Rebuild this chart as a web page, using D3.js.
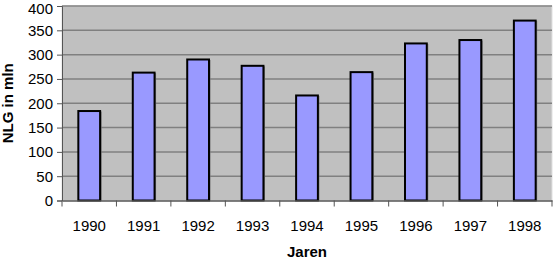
<!DOCTYPE html>
<html>
<head>
<meta charset="utf-8">
<script src="https://cdn.jsdelivr.net/npm/d3@7"></script>
<style>
  body { margin: 0; background: #fff; }
  svg text { font-family: "Liberation Sans", Arial, sans-serif; }
</style>
</head>
<body>
<svg width="554" height="259"></svg>
<script>
const years = ["1990", "1991", "1992", "1993", "1994", "1995", "1996", "1997", "1998"];
const values = [184, 263, 290, 277, 216, 264, 323, 330, 370];
const yTicks = [0, 50, 100, 150, 200, 250, 300, 350, 400];

const
    W = 554, H = 259,
    LEFT = 62, RIGHT = 552, TOP = 6, BOTTOM = 200.5;

const svg = d3.select("svg");

const x = d3.scaleBand().domain(years).range([LEFT, RIGHT]).paddingInner(0.6).paddingOuter(0.3);
const xb = d3.scaleBand().domain(years).range([LEFT, RIGHT]);
const y = d3.scaleLinear().domain([0, 400]).range([BOTTOM, TOP]);

// plot background
svg.append("rect")
    .attr("x", LEFT).attr("y", TOP)
    .attr("width", RIGHT - LEFT).attr("height", BOTTOM - TOP)
    .attr("fill", "#c0c0c0")
    .attr("stroke", "#e0e0e0").attr("stroke-width", 1);

// gridlines
svg.append("g").selectAll("line")
    .data(yTicks.filter(d => d > 0))
    .join("line")
    .attr("x1", LEFT).attr("x2", RIGHT)
    .attr("y1", d => y(d)).attr("y2", d => y(d))
    .attr("stroke", "#808080").attr("stroke-width", 1.5);

// bars: shadow then bar
svg.append("g").selectAll("rect")
    .data(values)
    .join("rect")
    .attr("x", (d, i) => x(years[i]) + 1)
    .attr("y", d => y(d) + 1)
    .attr("width", x.bandwidth())
    .attr("height", d => BOTTOM - y(d) - 1)
    .attr("fill", "none")
    .attr("stroke", "#777").attr("stroke-width", 1);

svg.append("g").selectAll("rect")
    .data(values)
    .join("rect")
    .attr("x", (d, i) => x(years[i]))
    .attr("y", d => y(d))
    .attr("width", x.bandwidth())
    .attr("height", d => BOTTOM - y(d))
    .attr("fill", "#9999ff")
    .attr("stroke", "#000").attr("stroke-width", 2);

// y axis
const yAxis = svg.append("g")
    .attr("transform", `translate(${LEFT},0)`)
    .call(d3.axisLeft(y).tickValues(yTicks).tickSize(5).tickPadding(4));
yAxis.select(".domain").attr("stroke", "#555").attr("stroke-width", 1);
yAxis.selectAll(".tick line").attr("stroke", "#555");
yAxis.selectAll("text").attr("font-size", 15).attr("fill", "#000");
// keep the top label inside the picture
yAxis.selectAll(".tick").filter(d => d === 400).select("text").attr("dy", "0.32em").attr("y", 2.5);

// x axis
const xAxis = svg.append("g")
    .attr("transform", `translate(0,${BOTTOM})`)
    .call(d3.axisBottom(xb).tickSize(0).tickPadding(20));
xAxis.select(".domain").attr("stroke", "#555").attr("stroke-width", 1.5);
xAxis.selectAll("text").attr("font-size", 15).attr("fill", "#000");
// category boundary ticks
xAxis.append("g").selectAll("line")
    .data(years)
    .join("line")
    .attr("x1", d => xb(d)).attr("x2", d => xb(d))
    .attr("y1", 0).attr("y2", 6)
    .attr("stroke", "#555");
xAxis.append("line")
    .attr("x1", RIGHT).attr("x2", RIGHT)
    .attr("y1", 0).attr("y2", 6)
    .attr("stroke", "#555");

// axis titles
svg.append("text")
    .attr("x", (LEFT + RIGHT) / 2).attr("y", 257)
    .attr("text-anchor", "middle")
    .attr("font-size", 15).attr("font-weight", "bold")
    .text("Jaren");

svg.append("text")
    .attr("transform", `translate(13,${(TOP + BOTTOM) / 2}) rotate(-90)`)
    .attr("text-anchor", "middle")
    .attr("font-size", 15).attr("font-weight", "bold")
    .text("NLG in mln");
</script>
</body>
</html>
